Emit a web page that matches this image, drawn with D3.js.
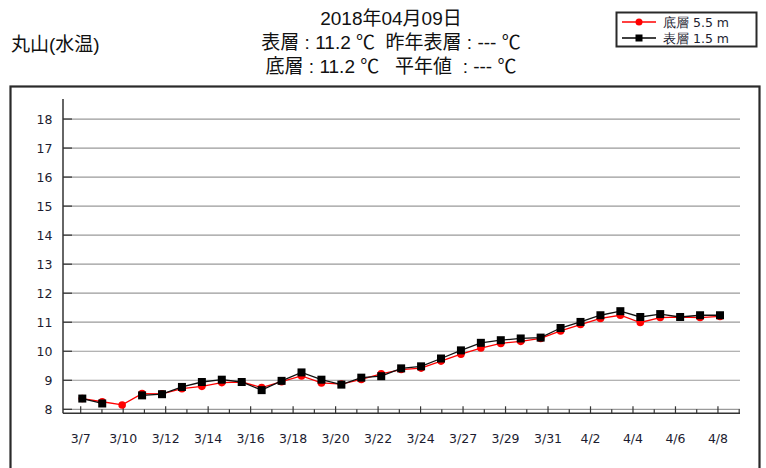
<!DOCTYPE html>
<html><head><meta charset="utf-8">
<script src="https://cdn.jsdelivr.net/npm/d3@7"></script>
<style>
html,body{margin:0;padding:0;background:#fff;}
svg{display:block;}
text{white-space:pre;}
</style></head>
<body>
<script>
// ---- data ----
const days = ["3/7","3/8","3/9","3/10","3/11","3/12","3/13","3/14","3/15","3/16","3/17","3/18","3/19","3/20","3/21","3/22","3/23","3/24","3/25","3/26","3/27","3/28","3/29","3/30","3/31","4/1","4/2","4/3","4/4","4/5","4/6","4/7","4/8"];
const bottomTemp = [8.37,8.26,8.15,8.54,8.53,8.71,8.79,8.92,8.94,8.75,8.95,9.15,8.91,8.87,9.03,9.22,9.37,9.42,9.66,9.90,10.11,10.27,10.34,10.44,10.70,10.92,11.13,11.24,10.99,11.16,11.18,11.16,11.2];
const surfaceTemp = [8.37,8.20,null,8.48,8.52,8.77,8.94,9.02,8.94,8.66,8.98,9.27,9.02,8.85,9.09,9.14,9.41,9.48,9.75,10.03,10.29,10.38,10.44,10.47,10.80,11.01,11.24,11.38,11.18,11.28,11.18,11.24,11.24];
const tickLabels = ["3/7","","3/10","","3/12","","3/14","","3/16","","3/18","","3/20","","3/22","","3/24","","3/27","","3/29","","3/31","","4/2","","4/4","","4/6","","4/8",""];
const yTicks = [8,9,10,11,12,13,14,15,16,17,18];
const seriesNames = ["底層 5.5 m","表層 1.5 m"];
const titleLines = ["2018年04月09日","表層 : 11.2 ℃  昨年表層 : --- ℃","底層 : 11.2 ℃   平年値  : --- ℃"];
const stationName = "丸山(水温)";

// ---- layout ----
const W = 766, H = 468;
const svg = d3.select("body").append("svg").attr("width", W).attr("height", H);
const axisFont = "'DejaVu Sans', Verdana, sans-serif";
const titleFont = "'Liberation Sans', 'Noto Sans CJK JP', sans-serif";

// outer frame
svg.append("rect").attr("x", 10.5).attr("y", 86.5).attr("width", 749).attr("height", 420)
  .attr("fill", "none").attr("stroke", "#2a2a2a").attr("stroke-width", 2.2);

// title
svg.append("text").attr("x", 11).attr("y", 51).attr("font-family", titleFont).attr("font-size", 19)
  .attr("fill", "#111").text(stationName);
svg.selectAll("text.title").data(titleLines).join("text").attr("class", "title")
  .attr("x", 391).attr("y", (d, i) => 25 + i * 24).attr("text-anchor", "middle")
  .attr("font-family", titleFont).attr("font-size", 19).attr("fill", "#111").text(d => d);

// scales
const plotL = 63, plotR = 740, plotT = 99, plotB = 413.3;
const y = d3.scaleLinear().domain([7.862, 18.69]).range([plotB, plotT]);
const xDay = d3.scaleLinear().domain([0, days.length - 1]).range([82.3, 720]);
const xTick = d3.scalePoint().domain(d3.range(tickLabels.length)).range([80.7, 739.2]);

// gridlines
svg.append("g").selectAll("line").data(yTicks).join("line")
  .attr("x1", plotL).attr("x2", plotR).attr("y1", d => y(d)).attr("y2", d => y(d))
  .attr("stroke", "#9a9a9a").attr("stroke-width", 1.2);
// y ticks
svg.append("g").selectAll("line").data(yTicks).join("line")
  .attr("x1", plotL).attr("x2", plotL + 9).attr("y1", d => y(d)).attr("y2", d => y(d))
  .attr("stroke", "#333").attr("stroke-width", 1.2);
svg.append("g").selectAll("text").data(yTicks).join("text")
  .attr("x", 52.5).attr("y", d => y(d) + 4.5).attr("text-anchor", "end")
  .attr("font-family", axisFont).attr("font-size", 12.5).attr("fill", "#1c1c30").text(d => d);

// axes lines
svg.append("line").attr("x1", plotL).attr("x2", plotL).attr("y1", plotT).attr("y2", plotB)
  .attr("stroke", "#333").attr("stroke-width", 1.5);
svg.append("line").attr("x1", plotL).attr("x2", plotR).attr("y1", plotB).attr("y2", plotB)
  .attr("stroke", "#333").attr("stroke-width", 1.5);

// x ticks
svg.append("g").selectAll("line").data(tickLabels.map((t, i) => ({t, i}))).join("line")
  .attr("x1", d => xTick(d.i)).attr("x2", d => xTick(d.i))
  .attr("y1", plotB).attr("y2", d => plotB - (d.t ? 7 : 4))
  .attr("stroke", "#333").attr("stroke-width", 1.2);
svg.append("g").selectAll("text").data(tickLabels.map((t, i) => ({t, i})).filter(d => d.t)).join("text")
  .attr("x", d => xTick(d.i)).attr("y", 443).attr("text-anchor", "middle")
  .attr("font-family", axisFont).attr("font-size", 12.5).attr("fill", "#1c1c30").text(d => d.t);

// series
const line = d3.line().defined(d => d.v != null).x(d => xDay(d.i)).y(d => y(d.v));
const bData = bottomTemp.map((v, i) => ({v, i}));
const sData = surfaceTemp.map((v, i) => ({v, i}));

svg.append("path").datum(bData).attr("d", line).attr("fill", "none").attr("stroke", "#ff0000").attr("stroke-width", 1.3);
svg.append("g").selectAll("circle").data(bData.filter(d => d.v != null)).join("circle")
  .attr("cx", d => xDay(d.i)).attr("cy", d => y(d.v)).attr("r", 3.8).attr("fill", "#ff0000");

svg.append("path").datum(sData).attr("d", line).attr("fill", "none").attr("stroke", "#111").attr("stroke-width", 1.3);
svg.append("g").selectAll("rect").data(sData.filter(d => d.v != null)).join("rect")
  .attr("x", d => xDay(d.i) - 4).attr("y", d => y(d.v) - 4).attr("width", 8).attr("height", 8).attr("fill", "#000");

// legend
const lg = svg.append("g");
lg.append("rect").attr("x", 616.5).attr("y", 12.5).attr("width", 140).attr("height", 34)
  .attr("fill", "#fff").attr("stroke", "#2a2a2a").attr("stroke-width", 2);
const legendColors = ["#ff0000", "#000"];
seriesNames.forEach((name, i) => {
  const ly = 22 + i * 16;
  lg.append("line").attr("x1", 622).attr("x2", 656).attr("y1", ly).attr("y2", ly)
    .attr("stroke", legendColors[i]).attr("stroke-width", 1.3);
  if (i === 0) lg.append("circle").attr("cx", 639).attr("cy", ly).attr("r", 3.5).attr("fill", legendColors[i]);
  else lg.append("rect").attr("x", 635.5).attr("y", ly - 3.5).attr("width", 7).attr("height", 7).attr("fill", legendColors[i]);
  lg.append("text").attr("x", 663).attr("y", ly + 4.5).attr("font-family", axisFont).attr("font-size", 12.5)
    .attr("fill", "#1c1c30").text(name);
});
</script>
</body></html>
